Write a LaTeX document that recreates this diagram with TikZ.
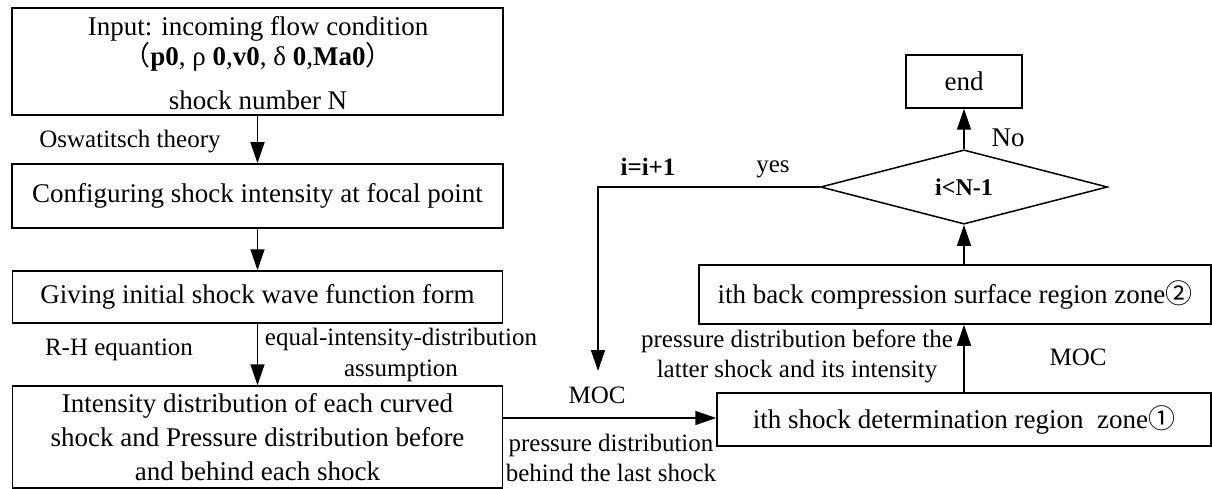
\documentclass[tikz,border=0pt]{standalone}
\usepackage{fontspec}
\setmainfont{Liberation Serif}
\newfontfamily\cjk{Noto Sans CJK SC}
\usetikzlibrary{arrows.meta,shapes.geometric}
\begin{document}
\begin{tikzpicture}[x=1pt,y=-1pt,
  box/.style={draw, line width=1.5pt, inner sep=0pt, align=center, font=\fontsize{27}{34}\selectfont},
  lbl/.style={inner sep=0pt, align=center, font=\fontsize{25}{30.5}\selectfont},
  arr/.style={line width=1.5pt, -{Triangle[length=21pt,width=14pt]}},
]
\useasboundingbox (0,0) rectangle (1212,489);
% left column
\node[box, minimum width=491pt, minimum height=107pt] (b1) at (257.5,61.5) {};
\node[inner sep=0pt, align=center, font=\fontsize{27}{28}\selectfont] (b1t) at (258,63)
  {Input: incoming flow condition\\{\cjk （}\textbf{p0}, ρ \textbf{0},\textbf{v0}, δ \textbf{0},\textbf{Ma0}{\cjk ）}\\[16pt]shock number N};
\node[box, minimum width=491pt, minimum height=64pt] (b2) at (257.5,196)
  {Configuring shock intensity at focal point};
\node[box, minimum width=490pt, minimum height=52pt] (b3) at (257.5,297)
  {Giving initial shock wave function form};
\node[box, minimum width=490pt, minimum height=102pt] (b4) at (257.5,437)
  {Intensity distribution of each curved\\shock and Pressure distribution before\\and behind each shock};
% right column
\node[box, minimum width=494pt, minimum height=53pt] (z1) at (964,419.5)
  {ith shock determination region \ zone{\cjk ①}};
\node[box, minimum width=512pt, minimum height=59pt] (z2) at (955,294.5)
  {ith back compression surface region zone{\cjk ②}};
\node[draw, line width=1.5pt, diamond, inner sep=0pt, minimum width=287pt, minimum height=64pt,
  font=\fontsize{24}{28}\selectfont\bfseries] (dia) at (964,187) {i\textless N-1};
\node[box, minimum width=116pt, minimum height=53pt] (end) at (964,81.5) {end};
% labels
\node[lbl] (osw) at (130,142) {Oswatitsch theory};
\node[lbl] (rh) at (119,350) {R-H equantion};
\node[lbl] (eq) at (401,355) {equal-intensity-distribution\\assumption};
\node[lbl] (moc1) at (597,395) {MOC};
\node[lbl] (pd) at (611,458) {pressure distribution\\behind the last shock};
\node[lbl] (pdb) at (797,356.5) {pressure distribution before the\\latter shock and its intensity};
\node[lbl] (moc2) at (1078,357) {MOC};
\node[lbl, font=\fontsize{25}{30}\selectfont\bfseries] (ii) at (648,167) {i=i+1};
\node[lbl] (yes) at (773,169) {yes};
\node[lbl, font=\fontsize{27}{30}\selectfont] (no) at (1008,138) {No};
% connectors
\coordinate (yA) at (0,418);
\coordinate (loopend) at (598,371);
\draw[arr] (b1) -- (b2);
\draw[arr] (b2) -- (b3);
\draw[arr] (b3) -- (b4);
\draw[arr] (b4.east |- yA) -- (z1.west |- yA);
\draw[arr] (z1.north) -- (z2.south -| z1.north);
\draw[arr] (z2.north -| dia.south) -- (dia.south);
\draw[arr] (dia.north) -- (end.south);
\draw[arr] (dia.west) -| (loopend);
\end{tikzpicture}
\end{document}
